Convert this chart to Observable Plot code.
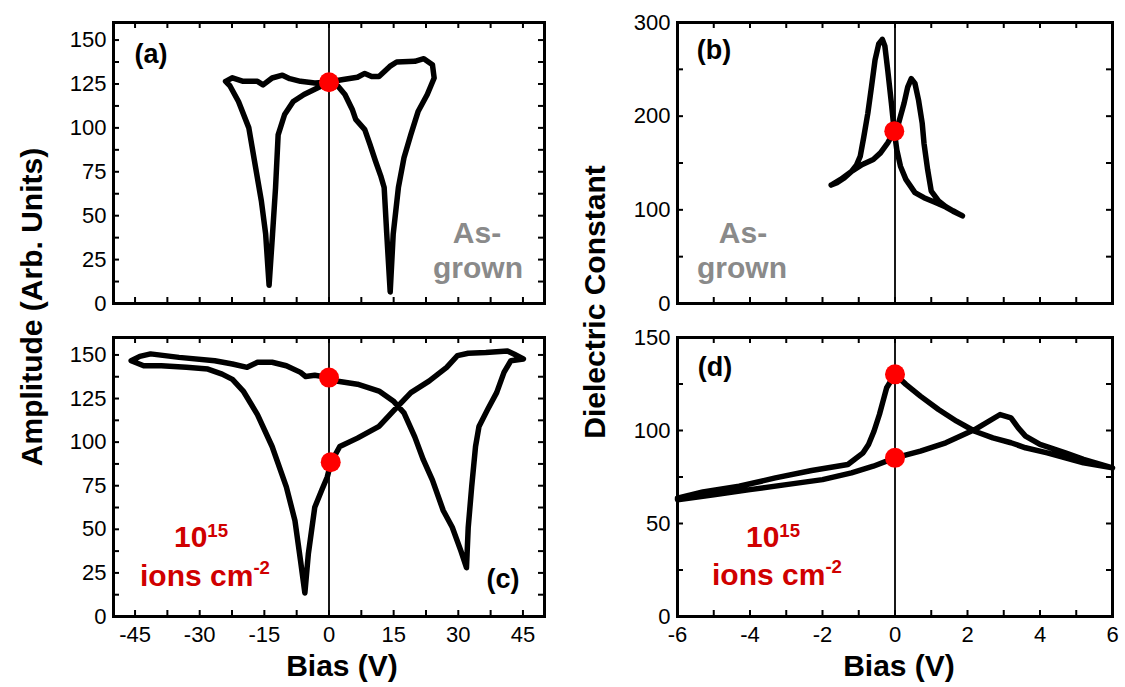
<!DOCTYPE html>
<html><head><meta charset="utf-8">
<script src="https://cdn.jsdelivr.net/npm/d3@7"></script>
<script src="https://cdn.jsdelivr.net/npm/@observablehq/plot@0.6"></script>
<style>
html,body{margin:0;padding:0;background:#fff;}
body{width:1125px;height:687px;position:relative;overflow:hidden;font-family:"Liberation Sans",Arial,sans-serif;}
.panel{position:absolute;}
.txt{position:absolute;font-weight:bold;white-space:nowrap;line-height:1;transform:translateX(-50%);}
.rot{position:absolute;font-weight:bold;white-space:nowrap;line-height:1;transform:translate(-50%,-50%) rotate(-90deg);}
.sup{position:relative;font-size:0.62em;}
</style></head><body>
<script>
// ---------- Data ----------
// (a) As-grown, amplitude loop
const aBias = [0, -3.3, -5.8, -8.3, -10.3, -11.8, -12.4, -13.1, -13.9, -14.7, -15.7, -17.0, -18.6, -21.0, -23.0, -24.0, -22.4, -19.9, -16.6, -15.3, -13.2, -10.8, -9.1, -6.6, -3.3, -0.4, 3.3, 6.6, 8.3, 9.9, 11.6, 14.1, 15.7, 19.9, 22.0, 24.0, 24.4, 22.8, 20.7, 19.0, 17.4, 16.1, 14.9, 14.2, 13.4, 12.8, 12.0, 10.8, 9.5, 8.3, 6.2, 5.4, 3.7, 2.1, 0];
const aAmp  = [126, 122, 119, 115, 107.6, 96, 66, 39.6, 10.4, 39.6, 58.5, 77, 100, 115, 124, 126.5, 128.5, 126.5, 126.5, 124.5, 128.4, 130, 128, 126.5, 125.6, 126, 127.5, 128.8, 131, 129.3, 129.3, 135, 137.5, 137.9, 139.4, 136, 128.4, 119, 109.5, 96.3, 83, 66, 39.6, 6.6, 39.6, 66, 72.7, 81, 90.6, 99, 104.8, 110.5, 119, 123.7, 126];
const aDotBias = [0];
const aDotAmp = [126];

// (b) As-grown, dielectric constant loop
const bBias = [-1.76, -1.5, -1.2, -0.9, -0.6, -0.4, -0.2, -0.02, 0.1, 0.25, 0.35, 0.45, 0.55, 0.65, 0.75, 0.8, 0.9, 1.0, 1.2, 1.4, 1.6, 1.86, 1.6, 1.4, 1.1, 0.8, 0.55, 0.3, 0.15, 0.05, -0.02, -0.1, -0.2, -0.28, -0.35, -0.45, -0.55, -0.65, -0.75, -0.86, -0.96, -1.06, -1.2, -1.4, -1.6, -1.76];
const bEps  = [126.5, 132.5, 141, 148.4, 153.7, 160.8, 171.4, 184, 192.6, 213.8, 231, 240, 235, 217, 192.6, 171, 143, 120, 109.5, 103.5, 99, 93.6, 98.5, 103, 108, 113, 118.4, 132.5, 146.6, 164, 184, 214, 249, 275, 282, 277, 260, 231, 203, 178, 157, 148, 141, 134, 129, 126.5];
const bDotBias = [-0.02];
const bDotEps = [184];

// (c) 10^15 ions cm^-2, amplitude loop
const cBias = [0, -3.3, -5.4, -6.6, -9.9, -13.2, -16.6, -19.0, -22.4, -26.5, -34.8, -41.4, -43.9, -45.9, -43.0, -38.9, -33.1, -28.1, -24.8, -22.4, -19.9, -16.6, -13.2, -9.9, -7.9, -6.6, -5.6, -4.8, -3.3, -1.7, -0.4, 0.4, 2.5, 6.6, 11.6, 14.9, 19.0, 23.2, 27.3, 29.8, 32.3, 36.4, 41.4, 43.0, 45.1, 42.2, 40.6, 38.9, 36.8, 34.8, 34.0, 33.1, 32.3, 31.9, 30.6, 28.6, 26.5, 24.0, 21.9, 19.9, 17.4, 14.9, 11.6, 6.6, 1.7, 0];
const cAmp  = [137, 138.4, 137.6, 140, 143.8, 145.8, 145.8, 142.9, 144.8, 146.7, 148.6, 150.6, 149.2, 146.7, 143.8, 143.8, 142.9, 141.9, 139, 136, 129.3, 115.8, 97.5, 74.3, 55, 31.9, 13.5, 35.7, 62.7, 72.4, 80, 88, 97.5, 102.3, 109, 117.8, 128.4, 135, 142.9, 149.6, 151, 151.4, 152.3, 150.4, 147.7, 146.7, 140, 128.4, 118.7, 109, 97.5, 74.3, 51, 28, 37.6, 51.2, 60.8, 78.2, 89.8, 103, 116.8, 123.6, 129.3, 133.2, 135.1, 137];
const cDotBias = [0, 0.4];
const cDotAmp = [137, 88.5];

// (d) 10^15 ions cm^-2, dielectric constant loop
const dBias = [-6, -5, -4, -3, -2, -1.2, -0.6, 0, 0.7, 1.4, 2.2, 2.9, 3.2, 3.4, 3.6, 4.0, 4.7, 5.2, 6.0, 5.2, 4.7, 4.2, 3.6, 3.2, 2.7, 2.2, 1.7, 1.2, 0.7, 0.3, 0, -0.23, -0.33, -0.43, -0.58, -0.73, -0.88, -1.3, -2.3, -3.3, -4.3, -5.3, -6];
const dEps  = [62.8, 65.5, 68.2, 70.9, 73.6, 77.2, 80.8, 85.3, 88.9, 93.4, 100.5, 108.6, 106.8, 101.4, 97, 92.5, 88, 84.5, 79.9, 82.6, 85.3, 88, 90.7, 93.4, 96, 99.6, 105, 111.3, 118.5, 124.8, 130.2, 123, 115.8, 108.6, 99.6, 92.5, 88, 81.7, 78.5, 74.5, 70, 67, 63.6];
const dDotBias = [0, 0];
const dDotEps = [130.2, 85.3];

// Tick labels
const ampTicks = [0, 25, 50, 75, 100, 125, 150];
const wideBiasTicks = [-45, -30, -15, 0, 15, 30, 45];
const epsTicksB = [0, 100, 200, 300];
const epsTicksD = [0, 50, 100, 150];
const narrowBiasTicks = [-6, -4, -2, 0, 2, 4, 6];

// ---------- Drawing ----------
const FONT = "Liberation Sans, Arial, sans-serif";
const TL = 6; // inward tick length

function rows(xs, ys) { return xs.map((x, i) => ({x, y: ys[i]})); }

function panel(cfg) {
  const {left, top, width, height, ml, mr, mt, mb, xDomain, yDomain,
         xMarks, yMarks, xLabels, yLabels, curve, dots} = cfg;
  const iw = width - ml - mr, ih = height - mt - mb;
  const marks = [
    Plot.ruleX([0], {stroke: "black", strokeWidth: 1.8}),
    Plot.line(curve, {x: "x", y: "y", stroke: "black", strokeWidth: 5.5, strokeLinejoin: "round", strokeLinecap: "round"}),
    Plot.dot(dots, {x: "x", y: "y", r: 10, fill: "#ff0000", stroke: "none"}),
    Plot.tickX(xMarks, {x: d => d, insetTop: ih - TL, stroke: "black", strokeWidth: 2}),
    Plot.tickX(xMarks, {x: d => d, insetBottom: ih - TL, stroke: "black", strokeWidth: 2}),
    Plot.tickY(yMarks, {y: d => d, insetRight: iw - TL, stroke: "black", strokeWidth: 2}),
    Plot.tickY(yMarks, {y: d => d, insetLeft: iw - TL, stroke: "black", strokeWidth: 2}),
    Plot.frame({stroke: "black", strokeWidth: 3}),
    Plot.axisY(yLabels, {tickSize: 0, tickPadding: 7, fontSize: 22, label: null, tickFormat: d => String(d)})
  ];
  if (xLabels) marks.push(Plot.axisX(xLabels, {tickSize: 0, tickPadding: 10, fontSize: 22, label: null, tickFormat: d => String(d)}));
  const svg = Plot.plot({
    width, height, marginLeft: ml, marginRight: mr, marginTop: mt, marginBottom: mb,
    x: {domain: xDomain, axis: xLabels ? undefined : null},
    y: {domain: yDomain},
    style: {fontFamily: FONT, fontSize: "22px", background: "transparent", color: "black", overflow: "visible"},
    marks
  });
  const div = document.createElement("div");
  div.className = "panel";
  div.style.left = left + "px"; div.style.top = top + "px";
  div.style.width = width + "px"; div.style.height = height + "px";
  div.appendChild(svg);
  document.body.appendChild(div);
}

const wideMarks = d3.range(-45, 45.01, 7.5);
const ampMarks = d3.range(0, 160, 12.5);
const narrowMarks = d3.range(-6, 6.01, 1);

panel({left: 0, top: 0, width: 560, height: 320, ml: 113, mr: 16, mt: 22, mb: 17,
  xDomain: [-50, 50], yDomain: [0, 160], xMarks: wideMarks, yMarks: ampMarks,
  xLabels: null, yLabels: ampTicks, curve: rows(aBias, aAmp), dots: rows(aDotBias, aDotAmp)});
panel({left: 560, top: 0, width: 565, height: 320, ml: 117, mr: 13, mt: 22, mb: 17,
  xDomain: [-6, 6], yDomain: [0, 300], xMarks: narrowMarks, yMarks: d3.range(0, 300.01, 50),
  xLabels: null, yLabels: epsTicksB, curve: rows(bBias, bEps), dots: rows(bDotBias, bDotEps)});
panel({left: 0, top: 320, width: 560, height: 367, ml: 113, mr: 16, mt: 17, mb: 71,
  xDomain: [-50, 50], yDomain: [0, 160], xMarks: wideMarks, yMarks: ampMarks,
  xLabels: wideBiasTicks, yLabels: ampTicks, curve: rows(cBias, cAmp), dots: rows(cDotBias, cDotAmp)});
panel({left: 560, top: 320, width: 565, height: 367, ml: 117, mr: 13, mt: 17, mb: 71,
  xDomain: [-6, 6], yDomain: [0, 150], xMarks: narrowMarks, yMarks: d3.range(0, 150.01, 25),
  xLabels: narrowBiasTicks, yLabels: epsTicksD, curve: rows(dBias, dEps), dots: rows(dDotBias, dDotEps)});

// ---------- Text ----------
function txt(html, cx, baseline, size, color) {
  const d = document.createElement("div");
  d.className = "txt";
  d.innerHTML = html;
  d.style.left = cx + "px";
  d.style.top = (baseline - 0.8465 * size) + "px";
  d.style.fontSize = size + "px";
  d.style.color = color;
  document.body.appendChild(d);
}
function rot(text, cx, cy, size) {
  const d = document.createElement("div");
  d.className = "rot";
  d.textContent = text;
  d.style.left = cx + "px"; d.style.top = cy + "px"; d.style.fontSize = size + "px";
  document.body.appendChild(d);
}
const GREY = "#8a8a8a", RED = "#d00000";
txt("(a)", 151, 64, 27, "black");
txt("(b)", 714, 60, 27, "black");
txt("(c)", 503, 589, 27, "black");
txt("(d)", 715, 377, 27, "black");
txt("As-", 477, 243, 30, GREY);
txt("grown", 478, 278, 30, GREY);
txt("As-", 743, 243, 30, GREY);
txt("grown", 742, 278, 30, GREY);
txt('10<span class="sup" style="top:-0.5em">15</span>', 201, 547, 30, RED);
txt('ions cm<span class="sup" style="top:-0.6em">-2</span>', 205, 586, 30, RED);
txt('10<span class="sup" style="top:-0.5em">15</span>', 773, 547, 30, RED);
txt('ions cm<span class="sup" style="top:-0.6em">-2</span>', 777, 585, 30, RED);
txt("Bias (V)", 342, 676, 30, "black");
txt("Bias (V)", 899, 676, 30, "black");
rot("Amplitude (Arb. Units)", 32, 307, 30);
rot("Dielectric Constant", 595, 302, 30);
</script>
</body></html>
